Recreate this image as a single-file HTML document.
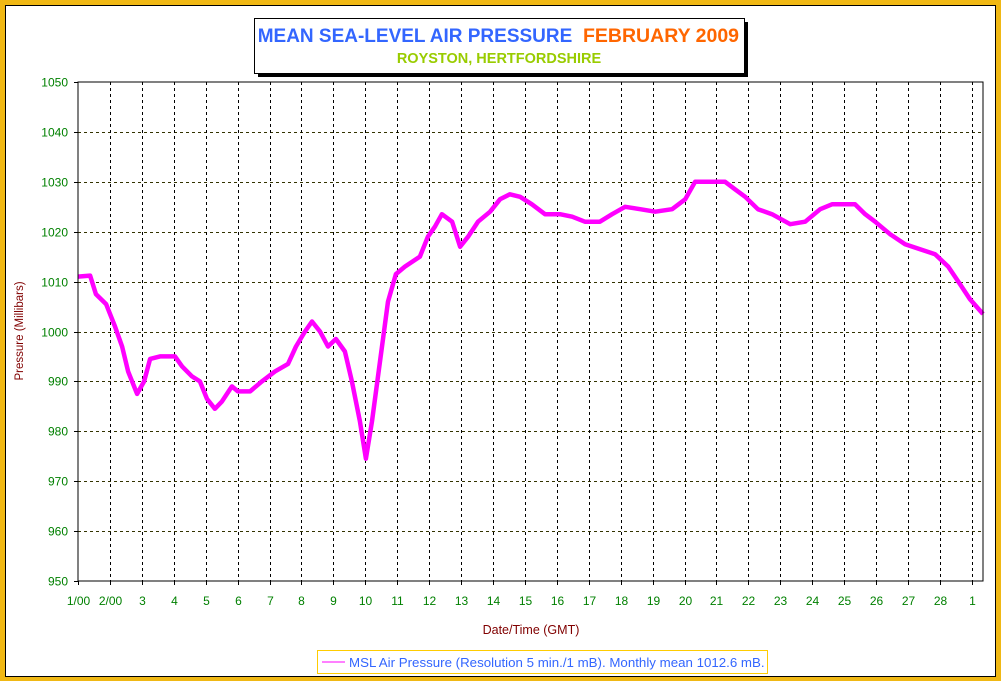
<!DOCTYPE html>
<html><head><meta charset="utf-8"><style>
body{margin:0;background:#fff}
svg{display:block;font-family:"Liberation Sans",sans-serif}
</style></head><body>
<svg id="chart" width="1001" height="681" viewBox="0 0 1001 681">
<rect x="0" y="0" width="1001" height="681" fill="#f0b814"/>
<rect x="5.5" y="5.5" width="990" height="671" fill="#fff" stroke="#000" stroke-width="1"/>
<rect x="258" y="22" width="490" height="55" fill="#000"/>
<rect x="254.5" y="18.5" width="490" height="55" fill="#fff" stroke="#000"/>
<text x="415" y="42" font-size="19" font-weight="bold" fill="#3366ff" text-anchor="middle">MEAN SEA-LEVEL AIR PRESSURE</text>
<text x="661" y="42" font-size="19.5" font-weight="bold" fill="#ff6600" text-anchor="middle">FEBRUARY 2009</text>
<text x="499" y="63" font-size="14.5" font-weight="bold" fill="#99cc00" text-anchor="middle">ROYSTON, HERTFORDSHIRE</text>
<g id="grid"></g>
<g id="series"></g>
<rect x="78" y="82" width="905" height="499" fill="none" stroke="#000" stroke-width="1"/>
<g id="axes"></g>
<text x="531" y="634" font-size="12.5" fill="#800000" text-anchor="middle">Date/Time (GMT)</text>
<text transform="translate(23,331) rotate(-90)" font-size="11.5" fill="#800000" text-anchor="middle">Pressure (Millibars)</text>
<g>
<rect x="317.5" y="650.5" width="450" height="23" fill="#fff" stroke="#ffcc00"/>
<line x1="322" y1="662" x2="345" y2="662" stroke="#ff00ff" stroke-width="1"/>
<text x="349" y="667" font-size="13.3" fill="#3366ff">MSL Air Pressure (Resolution 5 min./1 mB). Monthly mean 1012.6 mB.</text>
</g>
</svg>
<script>
const days=[0,0.38,0.56,0.88,1.16,1.38,1.57,1.85,2.07,2.26,2.57,3.04,3.26,3.57,3.82,4.04,4.29,4.51,4.82,5.01,5.39,5.76,6.17,6.58,6.83,7.11,7.33,7.58,7.83,8.08,8.36,8.58,8.83,9.02,9.21,9.46,9.71,9.96,10.24,10.71,10.96,11.18,11.40,11.72,11.97,12.22,12.53,12.91,13.22,13.53,13.85,14.22,14.63,15.10,15.48,15.88,16.35,16.73,17.14,17.61,18.08,18.61,19.02,19.33,20.27,20.58,20.90,21.30,21.74,22.31,22.78,23.25,23.62,24.34,24.66,24.97,25.44,25.91,26.38,26.85,27.26,27.63,27.94,28.35];
const pressure=[1011,1011.2,1007.5,1005.5,1001,997,992,987.5,990,994.5,995,995,993,991,990,986.5,984.5,986,989,988,988,990,992,993.5,997,1000,1002,1000,997,998.5,996,990,982,974.5,982,994,1006,1011.5,1013,1015,1019,1021,1023.5,1022,1017,1019,1022,1024,1026.5,1027.5,1027,1025.5,1023.5,1023.5,1023,1022,1022,1023.5,1025,1024.5,1024,1024.5,1026.5,1030,1030,1028.5,1027,1024.5,1023.5,1021.5,1022,1024.5,1025.5,1025.5,1023.5,1022,1019.5,1017.5,1016.5,1015.5,1013,1009.5,1006.5,1003.5];
const yTicks=[950,960,970,980,990,1000,1010,1020,1030,1040,1050];
const xTickLabels=["1/00","2/00","3","4","5","6","7","8","9","10","11","12","13","14","15","16","17","18","19","20","21","22","23","24","25","26","27","28","1"];
const NS="http://www.w3.org/2000/svg";
const X0=78,X1=983,Y0=581,Y1=82,DMAX=28.35,PMIN=950,PMAX=1050;
const xs=d=>X0+d/DMAX*(X1-X0);
const ys=p=>Y0-(p-PMIN)/(PMAX-PMIN)*(Y0-Y1);
function mk(tag,attrs,parent){const e=document.createElementNS(NS,tag);for(const k in attrs)e.setAttribute(k,attrs[k]);parent.appendChild(e);return e;}
const grid=document.getElementById('grid'),axes=document.getElementById('axes'),series=document.getElementById('series');
yTicks.forEach(v=>{const y=Math.round(ys(v))+0.5;
 if(v>PMIN&&v<PMAX){const l=mk('line',{x1:X0,x2:X1,y1:y,y2:y,stroke:'#333300','stroke-dasharray':'3,3'},grid);
 
 }
 const t=mk('line',{x1:X0-4,x2:X0,y1:y,y2:y,stroke:'#000'},axes);
 
 
 const tx=mk('text',{x:X0-10,y:y+4,'font-size':12,fill:'#008000','text-anchor':'end'},axes);tx.textContent=v;
 
 
});
xTickLabels.forEach((lab,i)=>{const x=Math.round(xs(i))+0.5;
 if(i>0){const l=mk('line',{x1:x,x2:x,y1:Y1,y2:Y0,stroke:'#000','stroke-dasharray':'3,3'},grid);
 
 }
 const t=mk('line',{x1:x,x2:x,y1:Y0,y2:Y0+4,stroke:'#000'},axes);
 
 
 const tx=mk('text',{x:x,y:605,'font-size':12,fill:'#008000','text-anchor':'middle'},axes);tx.textContent=lab;
 
 
});
const pts=days.map((d,i)=>xs(d).toFixed(1)+','+ys(pressure[i]).toFixed(1)).join(' ');
const pl=mk('polyline',{points:pts,fill:'none',stroke:'#ff00ff','stroke-width':4.5,'stroke-linejoin':'round'},series);


</script>
</body></html>
